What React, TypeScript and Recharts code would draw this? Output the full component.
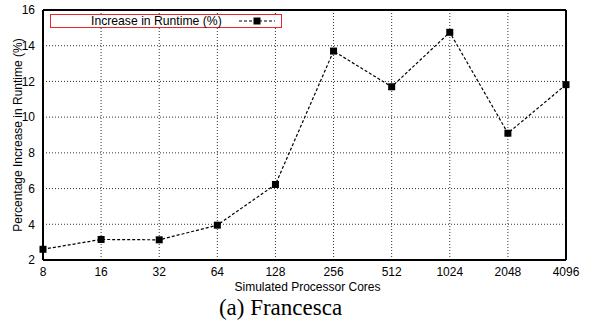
import React from 'react';
import { LineChart, Line, XAxis, YAxis, CartesianGrid } from 'recharts';

const cores = ['8', '16', '32', '64', '128', '256', '512', '1024', '2048', '4096'];
const runtimeIncrease = [2.6, 3.15, 3.13, 3.95, 6.23, 13.7, 11.7, 14.75, 9.1, 11.82];
const yTicks = [2, 4, 6, 8, 10, 12, 14, 16];

const data = cores.map((c, i) => ({ cores: c, value: runtimeIncrease[i] }));

const FONT = '"Liberation Sans", Arial, Helvetica, sans-serif';

const Square = (props: any) => {
    const { cx, cy } = props;
    if (cx == null || cy == null) return null;
    return <rect x={cx - 3.5} y={cy - 3.5} width={7} height={7} fill="#000" />;
};

// gnuplot-style key box, drawn over the plot
const LegendBox = () => (
    <div style={{
        position: 'absolute', left: 50, top: 14, width: 230, height: 12,
        border: '1px solid #e8262b', background: '#fff',
        fontFamily: FONT, fontSize: 12.2, color: '#000',
    }}>
        <span style={{ position: 'absolute', left: 40, top: 0, lineHeight: '12px', whiteSpace: 'nowrap' }}>Increase in Runtime (%)</span>
        <svg width={38} height={12} style={{ position: 'absolute', left: 187, top: 0 }}>
            <line x1={1} y1={6} x2={37} y2={6} stroke="#000" strokeDasharray="3 2" />
            <rect x={15.5} y={2.5} width={7} height={7} fill="#000" />
        </svg>
    </div>
);

export default function App() {
    return (
        <div style={{ position: 'absolute', left: 0, top: 0, width: 603, height: 326, background: '#fff' }}>
            <LineChart width={603} height={300} data={data} margin={{ top: 10, right: 37, left: 13, bottom: 10 }}>
                <CartesianGrid stroke="#333" strokeDasharray="1 2" strokeWidth={1} xAxisId="main" yAxisId="main" />
                <XAxis xAxisId="main" dataKey="cores" tickLine={false} axisLine={false} tickSize={0} tickMargin={7}
                    height={30} interval={0} padding={{ left: 0, right: 0 }}
                    tick={{ fill: '#000', fontSize: 12, fontFamily: FONT }}
                    label={{ value: 'Simulated Processor Cores', position: 'insideBottom', offset: -1, fill: '#000', fontSize: 12, fontFamily: FONT, dx: 3 }} />
                <XAxis xAxisId="bot" dataKey="cores" mirror orientation="bottom" tick={false} tickSize={6}
                    axisLine={{ stroke: '#000', strokeWidth: 2 }} tickLine={{ stroke: '#000' }} interval={0} padding={{ left: 0, right: 0 }} />
                <XAxis xAxisId="top" dataKey="cores" mirror orientation="top" tick={false} tickSize={6}
                    axisLine={{ stroke: '#000', strokeWidth: 2 }} tickLine={{ stroke: '#000' }} interval={0} padding={{ left: 0, right: 0 }} />
                <YAxis yAxisId="main" domain={[2, 16]} ticks={yTicks} width={30} tickLine={false} axisLine={false}
                    tickSize={0} tickMargin={8} interval={0}
                    tick={{ fill: '#000', fontSize: 12, fontFamily: FONT }}
                    label={{ value: 'Percentage Increase in Runtime (%)', angle: -90, position: 'insideLeft', offset: 5, fill: '#000', fontSize: 12, fontFamily: FONT, style: { textAnchor: 'middle' } }} />
                <YAxis yAxisId="left" domain={[2, 16]} ticks={yTicks} mirror orientation="left" tick={false} tickSize={6}
                    axisLine={{ stroke: '#000', strokeWidth: 2 }} tickLine={{ stroke: '#000' }} interval={0} />
                <YAxis yAxisId="right" domain={[2, 16]} ticks={yTicks} mirror orientation="right" tick={false} tickSize={6}
                    axisLine={{ stroke: '#000', strokeWidth: 2 }} tickLine={{ stroke: '#000' }} interval={0} />
                <Line xAxisId="main" yAxisId="main" type="linear" dataKey="value" name="Increase in Runtime (%)"
                    stroke="#000" strokeWidth={1.2} strokeDasharray="3 2" dot={<Square />} activeDot={false}
                    isAnimationActive={false} />
            </LineChart>
            <LegendBox />
            <div style={{
                position: 'absolute', left: 0, top: 294, width: 561, textAlign: 'center', lineHeight: '28px',
                fontFamily: '"Liberation Serif", "Times New Roman", serif', fontSize: 23, color: '#000',
            }}>(a) Francesca</div>
        </div>
    );
}
